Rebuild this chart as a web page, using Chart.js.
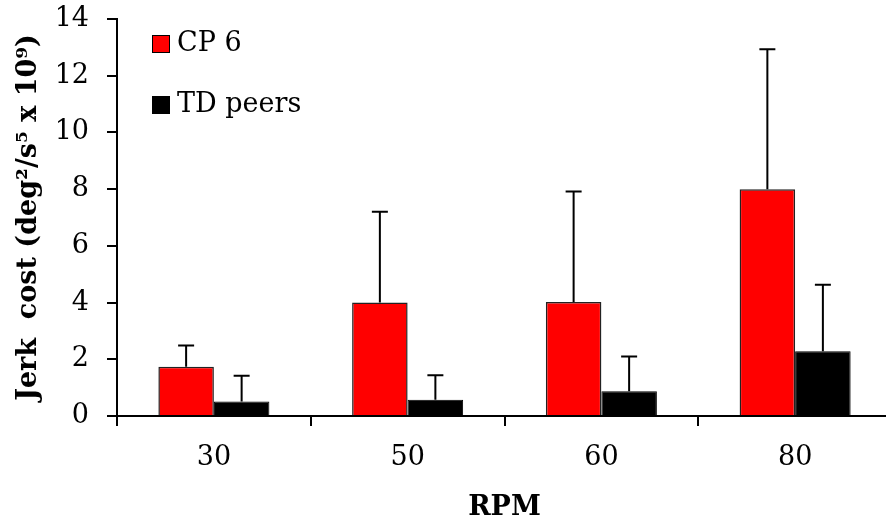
<!DOCTYPE html>
<html>
<head>
<meta charset="utf-8">
<script src="https://cdn.jsdelivr.net/npm/chart.js@4"></script>
<style>
  html, body { margin: 0; padding: 0; background: #fff; overflow: hidden; }
  #wrap { width: 892px; height: 520px; position: relative; }
</style>
</head>
<body>
<div id="wrap"><canvas id="chart"></canvas></div>
<script>
"use strict";

// ── Data ──────────────────────────────────────────────────────────────────────
const categories = ["30", "50", "60", "80"];
const cp6Values  = [1.74, 4.00, 4.02, 8.00];
const cp6Sd      = [0.75, 3.20, 3.90, 4.93];
const tdValues   = [0.51, 0.57, 0.87, 2.28];
const tdSd       = [0.91, 0.87, 1.23, 2.35];
const seriesLabels = ["CP 6", "TD peers"];
const yTicks     = [0, 2, 4, 6, 8, 10, 12, 14];

const FONT = "'DejaVu Serif', 'Liberation Serif', serif";

// ── Error bars (upper only) ───────────────────────────────────────────────────
const errorBars = {
  id: "errorBars",
  afterDatasetsDraw(chart) {
    const { ctx } = chart;
    const y = chart.scales.y;
    chart.data.datasets.forEach((ds, i) => {
      const meta = chart.getDatasetMeta(i);
      meta.data.forEach((bar, j) => {
        const top = y.getPixelForValue(ds.data[j] + ds.sd[j]);
        ctx.save();
        ctx.strokeStyle = "#000";
        ctx.lineWidth = 2;
        ctx.beginPath();
        ctx.moveTo(bar.x, bar.y);
        ctx.lineTo(bar.x, top);
        ctx.moveTo(bar.x - 8, top);
        ctx.lineTo(bar.x + 8, top);
        ctx.stroke();
        ctx.restore();
      });
    });
  },
};

// ── Legend (stacked, inside plot) ─────────────────────────────────────────────
const innerLegend = {
  id: "innerLegend",
  afterDraw(chart) {
    const { ctx, chartArea } = chart;
    ctx.save();
    ctx.font = `27px ${FONT}`;
    ctx.textBaseline = "middle";
    chart.data.datasets.forEach((ds, i) => {
      const x = chartArea.left + 35;
      const yc = chartArea.top + 25 + i * 61;
      ctx.fillStyle = ds.backgroundColor;
      ctx.fillRect(x, yc - 9, 18, 18);
      ctx.strokeStyle = "#000";
      ctx.lineWidth = 1;
      ctx.strokeRect(x + 0.5, yc - 8.5, 17, 17);
      ctx.fillStyle = "#000";
      ctx.fillText(ds.label, x + 25, yc);
    });
    ctx.restore();
  },
};

// ── Chart ─────────────────────────────────────────────────────────────────────
const ctx = document.getElementById("chart").getContext("2d");
new Chart(ctx, {
  type: "bar",
  data: {
    labels: categories,
    datasets: [
      {
        label: seriesLabels[0],
        data: cp6Values,
        sd: cp6Sd,
        backgroundColor: "#ff0000",
        borderColor: "#222",
        borderWidth: 1.5,
      },
      {
        label: seriesLabels[1],
        data: tdValues,
        sd: tdSd,
        backgroundColor: "#000000",
        borderColor: "#000",
        borderWidth: 1,
      },
    ],
  },
  options: {
    responsive: true,
    maintainAspectRatio: false,
    animation: false,
    categoryPercentage: 0.573,
    barPercentage: 1.0,
    layout: { padding: { top: 19, right: 0, bottom: 0, left: 0 } },
    plugins: {
      legend:  { display: false },
      tooltip: { enabled: false },
    },
    scales: {
      x: {
        afterFit: s => { s.height = 104; s.paddingLeft = 0; s.paddingRight = 0; },
        border: { color: "#000", width: 2 },
        grid: { drawOnChartArea: false, tickLength: 10, color: "#000", lineWidth: 2, offset: true },
        ticks: { color: "#000", font: { family: FONT, size: 27 }, padding: 16 },
        title: {
          display: true,
          text: "RPM",
          color: "#000",
          font: { family: FONT, size: 27, weight: "bold" },
          padding: { top: 0, bottom: -4 },
        },
      },
      y: {
        min: 0,
        max: 14,
        afterFit: s => { s.width = 117; s.paddingTop = 0; s.paddingBottom = 0; },
        afterBuildTicks: s => { s.ticks = yTicks.map(v => ({ value: v })); },
        border: { color: "#000", width: 2 },
        grid: { drawOnChartArea: false, tickLength: 10, color: "#000", lineWidth: 2 },
        ticks: { color: "#000", font: { family: FONT, size: 27 }, padding: 18 },
        title: {
          display: true,
          text: "Jerk  cost (deg²/s⁵ x 10⁹)",
          color: "#000",
          font: { family: FONT, size: 27, weight: "bold" },
          padding: { top: 13, bottom: 0 },
        },
      },
    },
  },
  plugins: [errorBars, innerLegend],
});
</script>
</body>
</html>
